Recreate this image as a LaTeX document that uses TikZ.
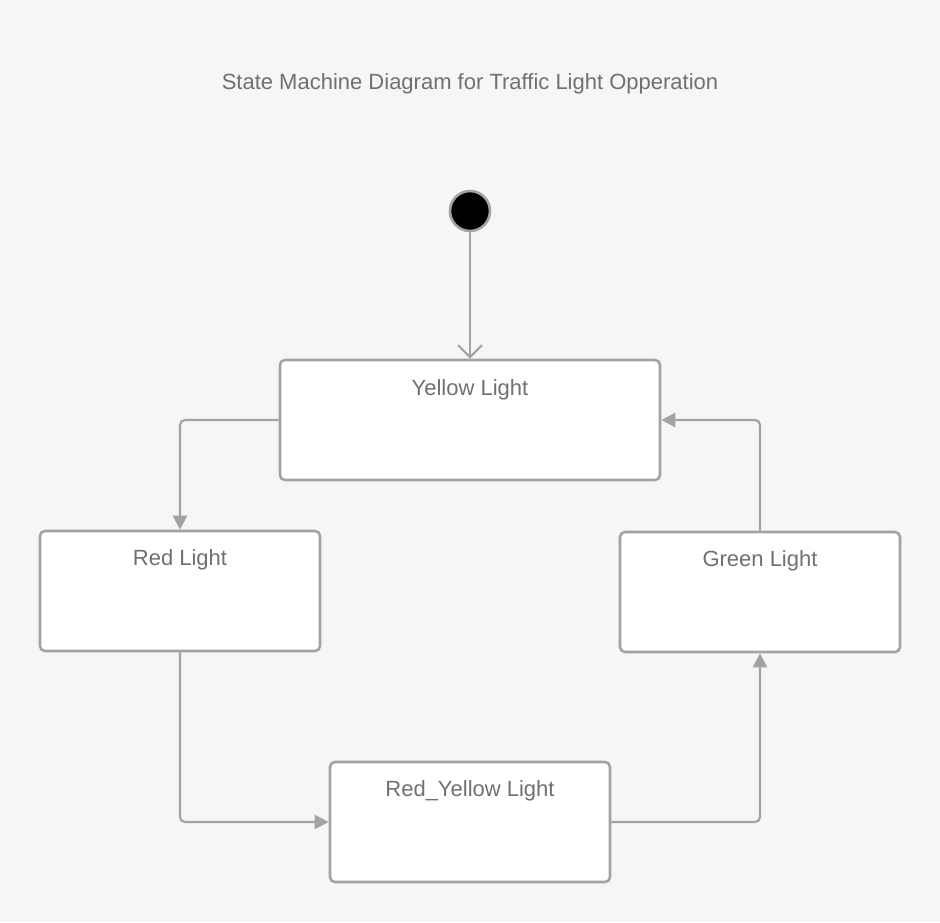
\documentclass[tikz,border=0pt]{standalone}
\usepackage{fontspec}
\setmainfont{Liberation Sans}
\usetikzlibrary{arrows.meta}
\definecolor{bg}{HTML}{F6F6F6}
\definecolor{ln}{HTML}{A3A3A3}
\definecolor{tx}{HTML}{707070}
\tikzset{
  statebox/.style={draw=ln, line width=2.6pt, fill=white, rounded corners=5pt, minimum width=380pt, minimum height=120pt, inner sep=0pt},
  smallbox/.style={statebox, minimum width=280pt},
  lbl/.style={text=tx, font=\fontsize{22}{25}\selectfont, anchor=base},
  conn/.style={draw=ln, line width=2.2pt, rounded corners=5pt, -{Triangle[length=14pt,width=14pt]}},
}
\begin{document}
\begin{tikzpicture}[x=1pt,y=-1pt]
\fill[bg] (0,0) rectangle (940,922);
\useasboundingbox (0,0) rectangle (940,922);
\node[lbl] (title) at (470,89) {State Machine Diagram for Traffic Light Opperation};
\node[circle, fill=black, draw=ln, line width=2.6pt, minimum size=40pt, inner sep=0pt] (init) at (470,211) {};
\node[statebox] (yellow) at (470,420) {};
\node[smallbox] (red) at (180,591) {};
\node[smallbox] (green) at (760,592) {};
\node[smallbox] (ry) at (470,822) {};
\node[lbl] (yl) at (470,395) {Yellow Light};
\node[lbl] (rl) at (180,565) {Red Light};
\node[lbl] (gl) at (760,566) {Green Light};
\node[lbl] (ryl) at (470,796) {Red\_Yellow Light};
\draw[draw=ln, line width=2.2pt, -{Straight Barb[length=12pt,width=24pt,line width=2.2pt]}] (init) -- (yellow.north);
\draw[conn] (yellow.west) -| (red.north);
\draw[conn] (red.south) |- (ry.west);
\draw[conn] (ry.east) -| (green.south);
\draw[conn] (green.north) |- (yellow.east);
\end{tikzpicture}
\end{document}
